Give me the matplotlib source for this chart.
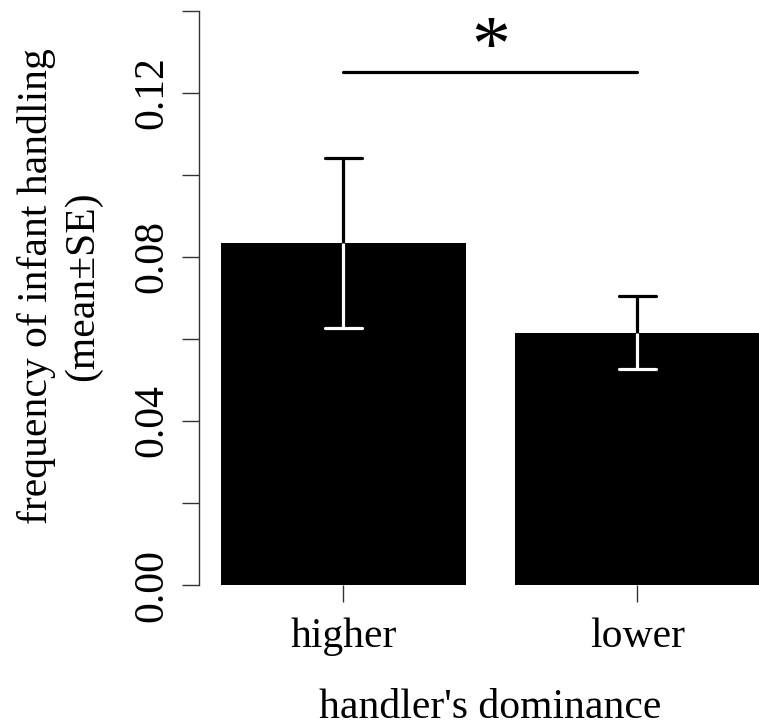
import matplotlib
matplotlib.use("Agg")
import matplotlib.pyplot as plt
import numpy as np

plt.rcParams['font.family'] = ['Liberation Serif', 'DejaVu Serif']

# group means and standard errors
groups = ["higher", "lower"]
means = [0.0834, 0.0615]
se = [0.0207, 0.0089]
sig_level = 0.125
sig_mark = "*"

fig = plt.figure(figsize=(7.59, 7.27), dpi=100)
# plot region runs a bit past the right/top edge, like the R device
ax = fig.add_axes([0.2627, 142 / 727, 0.767, 597 / 727])

x = np.array([0.7, 1.9])
ax.bar(x, means, width=1.0, color='black', edgecolor='none')

cap = 0.0755
for xi, m, s in zip(x, means, se):
    # upper half in black, lower half (inside the bar) in white
    ax.plot([xi, xi], [m, m + s], color='black', lw=2.3, solid_capstyle='butt')
    ax.plot([xi - cap, xi + cap], [m + s, m + s], color='black', lw=2.3, solid_capstyle='round')
    ax.plot([xi, xi], [m, m - s], color='white', lw=2.3, solid_capstyle='butt')
    ax.plot([xi - cap, xi + cap], [m - s, m - s], color='white', lw=2.3, solid_capstyle='round')

# significance bar
ax.plot([x[0], x[1]], [sig_level, sig_level], color='black', lw=2.3, solid_capstyle='round')
ax.text(x.mean(), 0.1216, sig_mark, ha='center', va='bottom', fontsize=56)

ax.set_xlim(0.112, 2.488)
ax.set_ylim(0, 0.1456)

for sp in ['top', 'right', 'bottom']:
    ax.spines[sp].set_visible(False)
ax.spines['left'].set_bounds(0, 0.14)
ax.spines['left'].set_linewidth(1.0)
ax.spines['left'].set_color('#333333')

ax.set_yticks([0, 0.04, 0.08, 0.12])
ax.set_yticklabels(["0.00", "0.04", "0.08", "0.12"], rotation=90, va='center', fontsize=30)
ax.set_yticks([0.02, 0.06, 0.10, 0.14], minor=True)
ax.tick_params(axis='y', which='both', length=12.5, width=1.0, color='#333333', pad=8)

ax.set_xticks(x)
ax.set_xticklabels(groups, fontsize=30)
ax.tick_params(axis='x', length=12.5, width=1.0, color='#333333', pad=11)

ax.set_xlabel("handler's dominance", fontsize=30, labelpad=23)
ax.set_ylabel("frequency of infant handling\n(mean±SE)", fontsize=30, labelpad=22, linespacing=1.25)

fig.savefig("out.png", dpi=100)
